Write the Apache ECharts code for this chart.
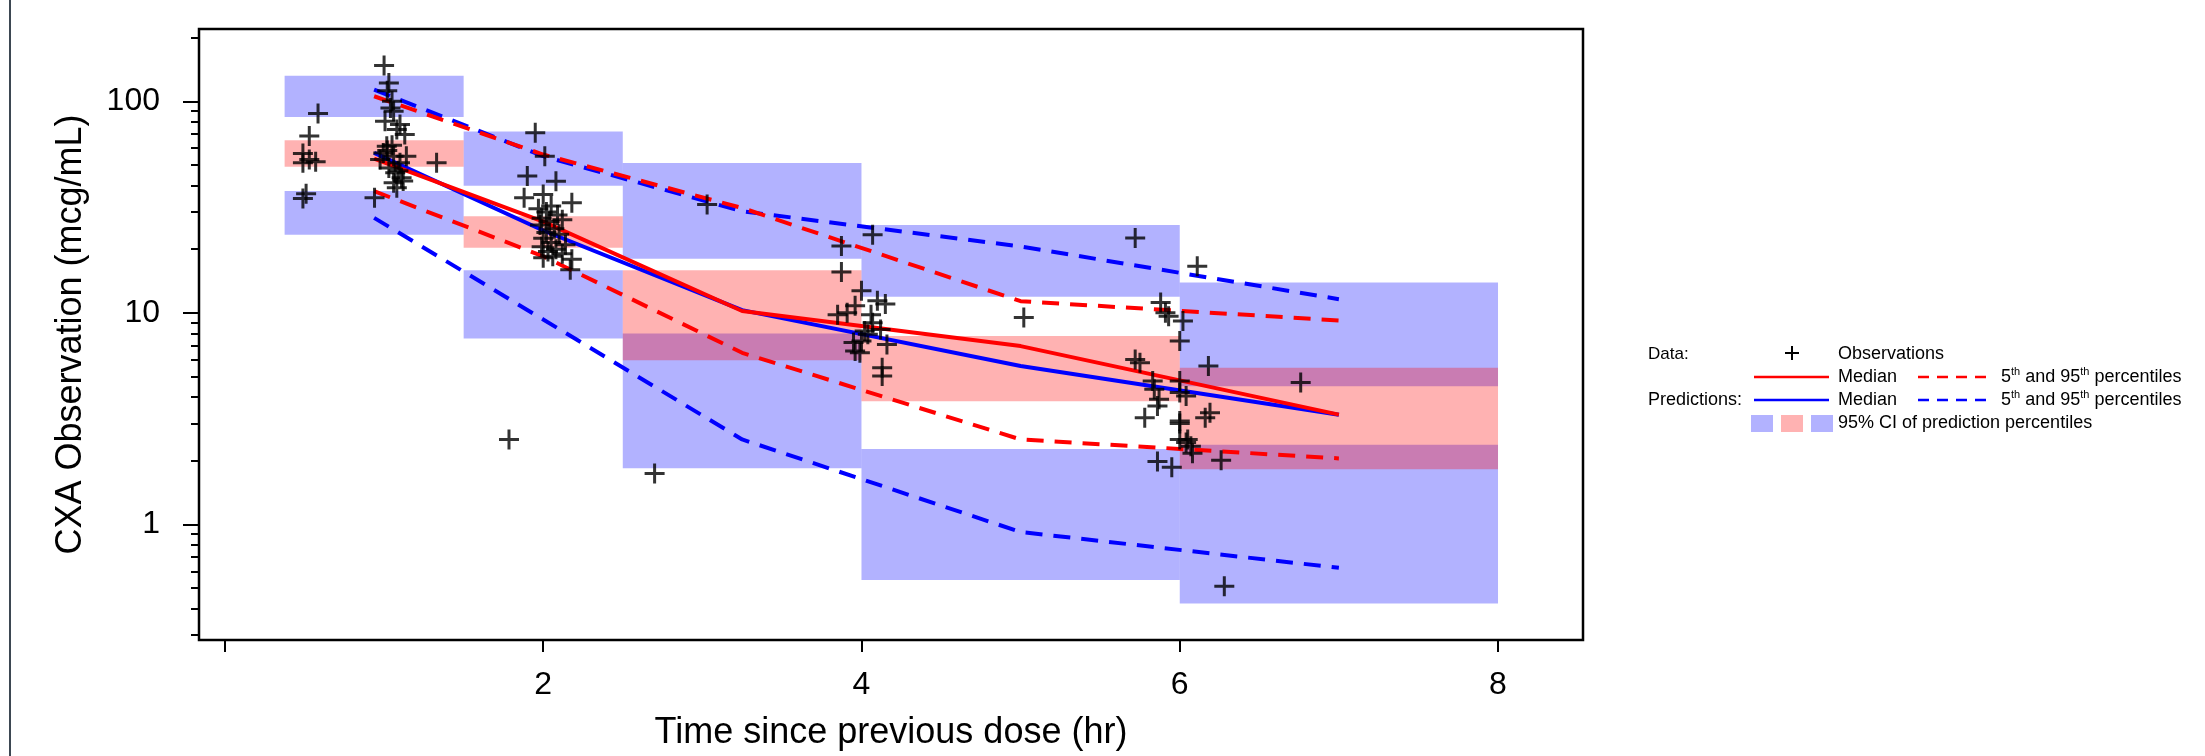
<!DOCTYPE html>
<html><head><meta charset="utf-8">
<script src="https://cdn.jsdelivr.net/npm/echarts@6/dist/echarts.min.js"></script>
<style>html,body{margin:0;padding:0;background:#fff;}#c{width:2205px;height:756px;}</style>
</head><body><div id="c"></div>
<script>
// ---- Data ----
const binStart = [0.375, 1.5, 2.5, 4.0, 6.0];
const binEnd   = [1.5, 2.5, 4.0, 6.0, 8.0];
// 95% CI of predicted 95th percentile
const p95Lo = [84.3, 39.9, 18.0, 11.9, 4.50];
const p95Hi = [132, 71.9, 51.1, 26.0, 13.9];
// 95% CI of predicted median
const p50Lo = [49.0, 20.3, 5.97, 3.82, 1.82];
const p50Hi = [65.4, 28.6, 15.9, 7.76, 5.50];
// 95% CI of predicted 5th percentile
const p05Lo = [23.4, 7.56, 1.84, 0.546, 0.423];
const p05Hi = [37.7, 15.9, 7.99, 2.27, 2.38];

const binMid = [0.9375, 2.0, 3.25, 5.0, 7.0];
const obsMedian  = [53.6, 27.0, 10.2, 6.96, 3.3];
const obsP95     = [105.6, 56.0, 31.3, 11.35, 9.2];
const obsP05     = [37.6, 18.5, 6.47, 2.52, 2.05];
const predMedian = [57.0, 24.5, 10.3, 5.6, 3.3];
const predP95    = [113.6, 55.0, 30.2, 20.6, 11.6];
const predP05    = [28.1, 9.3, 2.52, 0.92, 0.623];

const observations = [
  [0.585,87.6],[0.53,68.5],[0.49,56.6],[0.57,51.8],[0.49,51.2],[0.53,53],[0.51,36.5],[0.49,34.7],
  [1.0,147.5],[1.03,122],[1.02,112],[1.05,100],[1.04,93],[1.06,89.7],[1.006,80.5],[1.10,77.6],[1.08,73.5],
  [1.13,69.6],[1.017,61.3],[0.995,57],[1.14,55],[1.06,55],[0.975,53.1],[1.10,51.2],[1.03,48.4],[1.07,45.9],
  [1.11,43.5],[1.06,41.2],[1.08,39.0],[0.94,35.0],[1.33,51.2],[1.02,58.5],[1.05,62],[1.09,47],[1.12,42],
  [1.95,71],[2.01,55],[1.90,44.3],[2.08,41.9],[1.88,35],[2.18,33.1],[2.0,36.2],
  [1.97,31],[2.02,30],[2.05,32],[2.09,29],[1.99,28],[2.04,27],[2.12,27.5],[1.98,26],[2.07,25],[2.02,24],
  [2.1,23.5],[2.0,22.5],[2.05,21.5],[1.99,20.5],[2.08,20],[2.03,19.5],[2.12,19],[2.06,18.5],[2.18,17.9],
  [2.17,16.0],[2.0,18.2],[2.14,21],
  [1.785,2.52],[2.70,1.74],[3.03,32.5],
  [3.874,20.7],[4.07,23.4],[3.874,15.6],[4.0,12.7],[4.10,11.4],[4.15,11.0],[3.96,10.8],[3.85,9.8],[3.91,10.0],
  [4.07,8.97],[4.12,8.35],[4.04,7.91],[4.0,7.35],[4.16,7.09],[3.96,6.6],[3.99,6.48],[4.13,5.5],[4.13,5.03],
  [3.95,7.24],[4.02,8.2],[4.06,9.8],
  [5.02,9.49],
  [5.72,22.6],[6.11,16.6],[5.88,11.2],[5.91,10.0],[5.93,9.64],[6.02,9.14],[6.0,7.35],[6.18,5.6],[5.72,6.02],
  [5.75,5.81],[6.76,4.68],[5.83,4.76],[6.0,4.76],[5.84,4.35],[6.04,4.04],[6.0,4.2],[5.87,3.9],[5.86,3.63],
  [5.78,3.19],[6.19,3.37],[6.16,3.19],[6.0,3.08],[6.0,2.52],[6.05,2.52],[6.07,2.34],[5.86,1.98],[5.95,1.86],
  [6.08,2.17],[6.26,2.01],[6.28,0.51],[6.04,2.44],[6.0,3.0]
];

const xTickValues = [0, 2, 4, 6, 8];
const xLabelValues = [2, 4, 6, 8];
const yLabelValues = [1, 10, 100];
const yMinorValues = [0.3,0.4,0.5,0.6,0.7,0.8,0.9,1,2,3,4,5,6,7,8,9,10,20,30,40,50,60,70,80,90,100,200];

// ---- Chart ----
const F = 'Liberation Sans, Arial, Helvetica, sans-serif';
const BLUE_FILL = 'rgba(0,0,255,0.3)';
const RED_FILL = 'rgba(255,0,0,0.3)';
const PLUS = 'path://M8.5,0h3v8.5h8.5v3h-8.5v8.5h-3v-8.5h-8.5v-3h8.5z';
const Y_MIN = 0.284, Y_MAX = 219.6;

function rectSeries(lo, hi, color) {
  return {
    type: 'custom', silent: true, z: 1, clip: true,
    data: binStart.map((s, i) => [s, binEnd[i], lo[i], hi[i]]),
    encode: { x: [0, 1], y: [2, 3] },
    renderItem(params, api) {
      const p1 = api.coord([api.value(0), api.value(3)]);
      const p2 = api.coord([api.value(1), api.value(2)]);
      return { type: 'rect', shape: { x: p1[0], y: p1[1], width: p2[0] - p1[0], height: p2[1] - p1[1] },
               style: { fill: color } };
    }
  };
}
function lineSeries(vals, color, dashed) {
  return {
    type: 'line', z: 3, symbol: 'none', showSymbol: false, silent: true,
    data: binMid.map((x, i) => [x, vals[i]]),
    lineStyle: { color: color, width: 4, type: dashed ? [17, 11] : 'solid', cap: 'butt' }
  };
}
function tickAxis(values, len) {
  return {
    type: 'log', logBase: 10, min: Y_MIN, max: Y_MAX, position: 'left', offset: 0,
    axisLine: { show: false }, splitLine: { show: false }, minorTick: { show: false },
    axisTick: { show: true, inside: false, length: len, lineStyle: { color: '#000', width: 2 }, customValues: values },
    axisLabel: { show: false }
  };
}

const chart = echarts.init(document.getElementById('c'));
chart.setOption({
  animation: false,
  backgroundColor: '#fff',
  textStyle: { fontFamily: F, color: '#000' },
  grid: { left: 199, right: 622, top: 29, bottom: 116, show: true, borderColor: '#000', borderWidth: 2.5, backgroundColor: 'transparent' },
  xAxis: {
    type: 'value', min: -0.163, max: 8.534,
    axisLine: { show: false }, splitLine: { show: false },
    axisTick: { show: true, inside: false, length: 12, lineStyle: { color: '#000', width: 2 }, customValues: xTickValues },
    axisLabel: { customValues: xLabelValues, margin: 29, fontSize: 32, color: '#000', fontFamily: F },
    name: 'Time since previous dose (hr)', nameLocation: 'middle', nameGap: 75,
    nameTextStyle: { fontSize: 36, color: '#000', fontFamily: F }
  },
  yAxis: [{
    type: 'log', logBase: 10, min: Y_MIN, max: Y_MAX, position: 'left', offset: 0,
    axisLine: { show: false }, splitLine: { show: false }, minorTick: { show: false },
    axisTick: { show: false },
    axisLabel: { customValues: yLabelValues, margin: 39, fontSize: 32, color: '#000', fontFamily: F,
                 formatter: v => String(Math.round(v)) },
    name: 'CXA Observation (mcg/mL)', nameLocation: 'middle', nameGap: 110,
    nameTextStyle: { fontSize: 36, color: '#000', fontFamily: F }
  },
    tickAxis(yMinorValues, 8),
    tickAxis(yLabelValues, 16)
  ],
  series: [
    rectSeries(p95Lo, p95Hi, BLUE_FILL),
    rectSeries(p05Lo, p05Hi, BLUE_FILL),
    rectSeries(p50Lo, p50Hi, RED_FILL),
    lineSeries(predP95, '#0000ff', true),
    lineSeries(predP05, '#0000ff', true),
    lineSeries(predMedian, '#0000ff', false),
    lineSeries(obsP95, '#ff0000', true),
    lineSeries(obsP05, '#ff0000', true),
    lineSeries(obsMedian, '#ff0000', false),
    { type: 'scatter', z: 5, silent: true, data: observations, symbol: PLUS, symbolSize: 20,
      itemStyle: { color: '#000' } }
  ],
  graphic: [
    { type: 'line', shape: { x1: 10, y1: 0, x2: 10, y2: 756 }, style: { stroke: '#3d4852', lineWidth: 2 } },
    // legend
    { type: 'text', x: 1648, y: 354, style: { text: 'Data:', fontSize: 17, fontFamily: F, fill: '#000', align: 'left', verticalAlign: 'middle' } },
    { type: 'line', shape: { x1: 1785, y1: 353, x2: 1799, y2: 353 }, style: { stroke: '#000', lineWidth: 2 } },
    { type: 'line', shape: { x1: 1792, y1: 346, x2: 1792, y2: 360 }, style: { stroke: '#000', lineWidth: 2 } },
    { type: 'text', x: 1838, y: 354, style: { text: 'Observations', fontSize: 18, fontFamily: F, fill: '#000', align: 'left', verticalAlign: 'middle' } },
    { type: 'line', shape: { x1: 1754, y1: 377, x2: 1829, y2: 377 }, style: { stroke: '#ff0000', lineWidth: 2.5 } },
    { type: 'text', x: 1838, y: 377, style: { text: 'Median', fontSize: 18, fontFamily: F, fill: '#000', align: 'left', verticalAlign: 'middle' } },
    { type: 'line', shape: { x1: 1918, y1: 377, x2: 1986, y2: 377 }, style: { stroke: '#ff0000', lineWidth: 2.5, lineDash: [11, 8] } },
    { type: 'text', x: 2001, y: 377, style: {
        text: '{a|5}{s|th}{a| and 95}{s|th}{a| percentiles}', align: 'left', verticalAlign: 'middle',
        rich: { a: { fontSize: 18, fontFamily: F, fill: '#000', lineHeight: 22, verticalAlign: 'middle' },
                s: { fontSize: 11, fontFamily: F, fill: '#000', lineHeight: 12, verticalAlign: 'top' } } } },
    { type: 'text', x: 1648, y: 400, style: { text: 'Predictions:', fontSize: 18, fontFamily: F, fill: '#000', align: 'left', verticalAlign: 'middle' } },
    { type: 'line', shape: { x1: 1754, y1: 400, x2: 1829, y2: 400 }, style: { stroke: '#0000ff', lineWidth: 2.5 } },
    { type: 'text', x: 1838, y: 400, style: { text: 'Median', fontSize: 18, fontFamily: F, fill: '#000', align: 'left', verticalAlign: 'middle' } },
    { type: 'line', shape: { x1: 1918, y1: 400, x2: 1986, y2: 400 }, style: { stroke: '#0000ff', lineWidth: 2.5, lineDash: [11, 8] } },
    { type: 'text', x: 2001, y: 400, style: {
        text: '{a|5}{s|th}{a| and 95}{s|th}{a| percentiles}', align: 'left', verticalAlign: 'middle',
        rich: { a: { fontSize: 18, fontFamily: F, fill: '#000', lineHeight: 22, verticalAlign: 'middle' },
                s: { fontSize: 11, fontFamily: F, fill: '#000', lineHeight: 12, verticalAlign: 'top' } } } },
    { type: 'rect', shape: { x: 1751, y: 415, width: 22, height: 17 }, style: { fill: '#b2b2ff' } },
    { type: 'rect', shape: { x: 1781, y: 415, width: 22, height: 17 }, style: { fill: '#ffb2b2' } },
    { type: 'rect', shape: { x: 1811, y: 415, width: 22, height: 17 }, style: { fill: '#b2b2ff' } },
    { type: 'text', x: 1838, y: 423, style: { text: '95% CI of prediction percentiles', fontSize: 18, fontFamily: F, fill: '#000', align: 'left', verticalAlign: 'middle' } }
  ]
});
</script>
</body></html>
